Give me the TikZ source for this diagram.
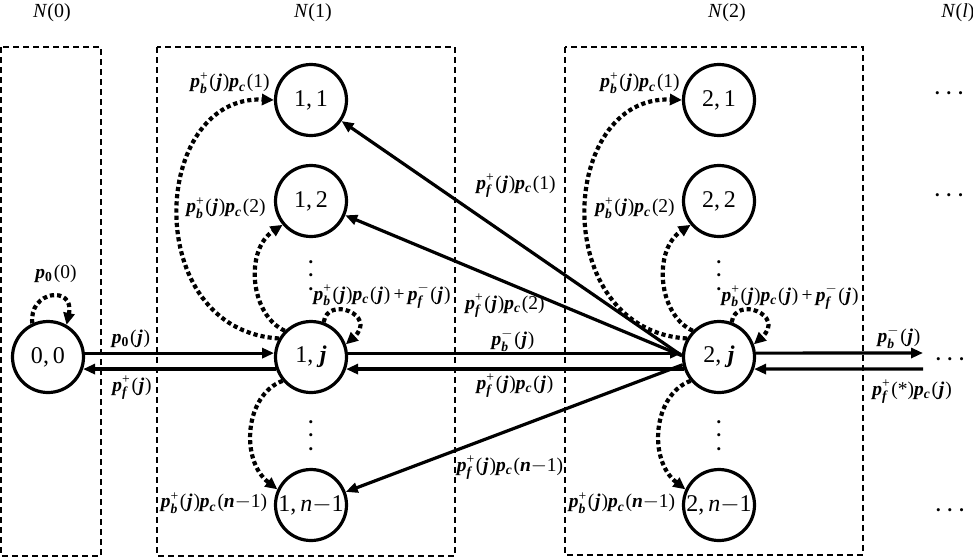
\documentclass[tikz,border=0pt]{standalone}
\usepackage{amsmath}
\usepackage{fontspec}
\setmainfont{Liberation Serif}
\usetikzlibrary{arrows.meta}
\newcommand{\bi}[1]{\textbf{\textit{#1}}}
\newcommand{\Pp}[2]{\bi{p}$^{\text{#1}}_{\text{\bi{#2}}}$\kern1.2pt}
\newcommand{\Pc}{\bi{p}$_{\text{\bi{c}}}$\kern1.2pt}
\newcommand{\Pz}{\bi{p}$_{\text{\textbf{0}}}$\kern1.2pt}
\newcommand{\J}{\kern0.8pt\bi{j}\kern0.8pt}
\newcommand{\mn}{$-$}
\newcommand{\hdts}{\textbullet\hspace{7pt}\textbullet\hspace{7pt}\textbullet}
\begin{document}
\begin{tikzpicture}[x=1pt,y=-1pt,
  state/.style={circle, draw, line width=3.2pt, minimum size=71pt, inner sep=0pt, font=\fontsize{24}{28}\selectfont},
  grpbox/.style={draw, line width=1.1pt, dash pattern=on 6pt off 4pt},
  conn/.style={line width=3.2pt, -{Triangle[length=12pt,width=10pt]}},
  dotarc/.style={line width=4.2pt, dash pattern=on 4.2pt off 3pt, -{Triangle[length=12pt,width=11pt]}},
  lbl/.style={font=\fontsize{19.5}{22}\selectfont, inner sep=0pt},
  grp/.style={font=\fontsize{20}{22}\selectfont, inner sep=0pt},
  vdts/.style={font=\fontsize{13}{13.5}\selectfont, align=center, inner sep=0pt},
  hdots/.style={font=\fontsize{13}{15}\selectfont, inner sep=0pt}]
\useasboundingbox (0,0) rectangle (973,558);
% group boxes
\draw[grpbox] (1,47) rectangle (101,556);
\draw[grpbox] (157,47) rectangle (455,556);
\draw[grpbox] (565,47) rectangle (863,555);
\node[grp] (n0) at (52,13) {\textit{N}(0)};
\node[grp] (n1) at (313,13) {\textit{N}(1)};
\node[grp] (n2) at (727,13) {\textit{N}(2)};
\node[grp] (nl) at (958,13) {\textit{N}(\textit{l})};
% states
\node[state] (c00) at (48,357) {0,\,0};
\node[state] (c11) at (311,100) {1,\,1};
\node[state] (c12) at (311,201) {1,\,2};
\node[state] (c1j) at (311,357) {1,\;\bi{j}};
\node[state] (c1n) at (311,505) {1,\,\textit{n}\mn1};
\node[state] (c21) at (719,100) {2,\,1};
\node[state] (c22) at (719,201) {2,\,2};
\node[state] (c2j) at (719,357) {2,\;\bi{j}};
\node[state] (c2n) at (719,505) {2,\,\textit{n}\mn1};
% dots
\node[vdts] (v1) at (311,277) {\textbullet\\\textbullet\\\textbullet};
\node[vdts] (v2) at (311,437) {\textbullet\\\textbullet\\\textbullet};
\node[vdts] (v3) at (719,277) {\textbullet\\\textbullet\\\textbullet};
\node[vdts] (v4) at (719,437) {\textbullet\\\textbullet\\\textbullet};
\node[hdots] (h1) at (949,95) {\hdts};
\node[hdots] (h2) at (949,197) {\hdts};
\node[hdots] (h3) at (950,361) {\hdts};
\node[hdots] (h4) at (950,512) {\hdts};
% straight connectors
\draw[conn] (c00.6) -- (c1j.174);
\draw[conn] (c1j.199) -- (c00.-19);
\draw[conn] (c1j.6) -- (c2j.174);
\draw[conn] (c2j.199) -- (c1j.-19);
\coordinate (r1) at (923,353);
\coordinate (r2) at (923,369);
\draw[conn] (c2j.6) -- (r1);
\draw[conn] (r2) -- (c2j.-19);
\draw[conn] (c2j.178) -- (c11);
\draw[conn] (c2j.178) -- (c12);
\draw[conn] (c2j.192) -- (c1n);
% dotted arcs
\draw[dotarc] (c00.115) .. controls +(-4,-33) and +(8.5,-40) .. (c00.60);
\foreach \c/\a/\b/\n in {1/c11/c12/c1n, 2/c21/c22/c2n}{
  \draw[dotarc] (c\c j.150) .. controls +(-139,-8.5) and +(-124,-5) .. (\a.180);
  \draw[dotarc] (c\c j.135) .. controls +(-35,-16) and +(-38,25) .. (\b.220);
  \draw[dotarc] (c\c j.70) .. controls +(4,-27) and +(32,-29) .. (c\c j.20);
  \draw[dotarc] (c\c j.220) .. controls +(-38,14) and +(-37.5,-29) .. (\n.155);
}
% labels
\node[lbl] (l1) at (230,83) {\Pp{+}{b}(\J)\Pc(1)};
\node[lbl] (l2) at (226,208) {\Pp{+}{b}(\J)\Pc(2)};
\node[lbl] (l3) at (382,296) {\Pp{+}{b}(\J)\Pc(\J)\,+\,\Pp{\mn}{f}(\J)};
\node[lbl] (l4) at (214,503) {\Pp{+}{b}(\J)\Pc(\bi{n}\mn1)};
\node[lbl] (m1) at (640,83) {\Pp{+}{b}(\J)\Pc(1)};
\node[lbl] (m2) at (635,208) {\Pp{+}{b}(\J)\Pc(2)};
\node[lbl] (m3) at (790,297) {\Pp{+}{b}(\J)\Pc(\J)\,+\,\Pp{\mn}{f}(\J)};
\node[lbl] (m4) at (622,503) {\Pp{+}{b}(\J)\Pc(\bi{n}\mn1)};
\node[lbl] (k0) at (56,274) {\Pz(0)};
\node[lbl] (k1) at (131,339) {\Pz(\J)};
\node[lbl] (k2) at (132,388) {\Pp{+}{f}(\J)};
\node[lbl] (f1) at (516,186) {\Pp{+}{f}(\J)\Pc(1)};
\node[lbl] (f2) at (505,306) {\Pp{+}{f}(\J)\Pc(2)};
\node[lbl] (f3) at (513,340) {\Pp{\mn}{b}(\J)};
\node[lbl] (f4) at (515,386) {\Pp{+}{f}(\J)\Pc(\J)};
\node[lbl] (f5) at (510,468) {\Pp{+}{f}(\J)\Pc(\bi{n}\mn1)};
\node[lbl] (g1) at (899,337) {\Pp{\mn}{b}(\J)};
\node[lbl] (g2) at (912,392) {\Pp{+}{f}(*)\Pc(\J)};
\end{tikzpicture}
\end{document}
